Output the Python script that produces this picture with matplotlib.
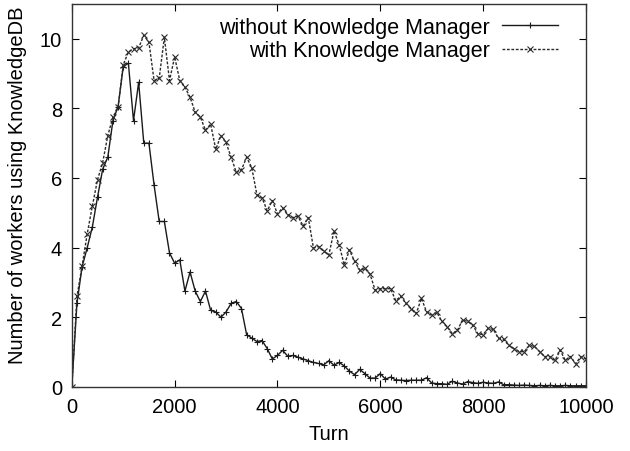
import matplotlib
matplotlib.use("Agg")
import matplotlib.pyplot as plt

# turns, sampled every 100
turns = list(range(0, 10001, 100))

# number of workers using KnowledgeDB, without the manager
without_km = [
    0.0, 2.4, 3.45, 4.0, 4.6, 5.45, 6.25, 6.6, 7.65, 8.05,
    9.2, 9.3, 7.65, 8.75, 7.0, 7.0, 5.8, 4.75, 4.75, 3.85,
    3.55, 3.65, 2.75, 3.3, 2.75, 2.45, 2.75, 2.2, 2.15, 2.0,
    2.15, 2.4, 2.45, 2.25, 1.5, 1.4, 1.3, 1.33, 1.1, 0.8,
    0.9, 1.05, 0.88, 0.9, 0.85, 0.8, 0.75, 0.7, 0.67, 0.63,
    0.75, 0.62, 0.7, 0.6, 0.45, 0.35, 0.5, 0.38, 0.25, 0.25,
    0.38, 0.22, 0.28, 0.2, 0.19, 0.18, 0.19, 0.19, 0.19, 0.26,
    0.11, 0.09, 0.09, 0.07, 0.16, 0.11, 0.08, 0.15, 0.12, 0.1,
    0.13, 0.11, 0.1, 0.14, 0.06, 0.06, 0.05, 0.04, 0.05, 0.04,
    0.03, 0.04, 0.03, 0.04, 0.03, 0.03, 0.04, 0.03, 0.03, 0.03,
    0.03,
]

# with the manager
with_km = [
    0.0, 2.6, 3.47, 4.4, 5.2, 5.95, 6.44, 7.22, 7.75, 8.03,
    9.25, 9.62, 9.71, 9.74, 10.1, 9.9, 8.8, 8.87, 10.04, 8.8,
    9.48, 8.8, 8.61, 8.32, 7.89, 7.75, 7.37, 7.55, 6.82, 7.22,
    7.02, 6.59, 6.16, 6.24, 6.59, 6.3, 5.52, 5.43, 5.06, 5.35,
    4.97, 5.14, 4.95, 4.86, 4.9, 4.62, 4.86, 3.99, 4.03, 3.9,
    3.79, 4.48, 4.08, 3.5, 3.93, 3.61, 3.35, 3.4, 3.24, 2.78,
    2.82, 2.82, 2.82, 2.48, 2.6, 2.4, 2.25, 2.11, 2.54, 2.16,
    2.07, 2.14, 1.88, 1.73, 1.53, 1.62, 1.92, 1.88, 1.77, 1.52,
    1.5, 1.68, 1.65, 1.39, 1.36, 1.19, 1.1, 1.01, 1.01, 1.19,
    1.16, 1.01, 0.87, 0.87, 0.76, 1.05, 0.76, 0.87, 0.66, 0.87,
    0.8,
]

plt.rcParams['font.family'] = ['Liberation Sans', 'DejaVu Sans']

fig = plt.figure(figsize=(6.3, 4.52), dpi=100)
ax = fig.add_axes([0.114, 0.142, 0.816, 0.847])

ax.plot(turns, without_km, color='#1a1a1a', linestyle='-', linewidth=1.0,
        marker='+', markersize=5, markeredgewidth=0.8,
        label='without Knowledge Manager')
ax.plot(turns, with_km, color='#2a2a2a', linestyle=(0, (2, 1.2)), linewidth=1.0,
        marker='x', markersize=4.5, markeredgewidth=0.8,
        label='with Knowledge Manager')

ax.set_xlim(0, 10000)
ax.set_ylim(0, 11)
ax.set_xticks([0, 2000, 4000, 6000, 8000, 10000])
ax.set_yticks([0, 2, 4, 6, 8, 10])
ax.tick_params(direction='in', top=True, right=True, length=5,
               labelsize=14.5, pad=7)
for s in ax.spines.values():
    s.set_linewidth(1.0)
    s.set_color('#333333')

ax.set_xlabel('Turn', fontsize=14.5, labelpad=6)
ax.set_ylabel('Number of workers using KnowledgeDB', fontsize=14.5)
ax.yaxis.set_label_coords(-0.088, 0.53)

ax.legend(loc='upper right', frameon=False, markerfirst=False, fontsize=15.5,
          handlelength=2.6, handletextpad=0.55, labelspacing=0.1,
          borderaxespad=0.2, bbox_to_anchor=(0.97, 1.0))

fig.savefig('out.png', dpi=100)
